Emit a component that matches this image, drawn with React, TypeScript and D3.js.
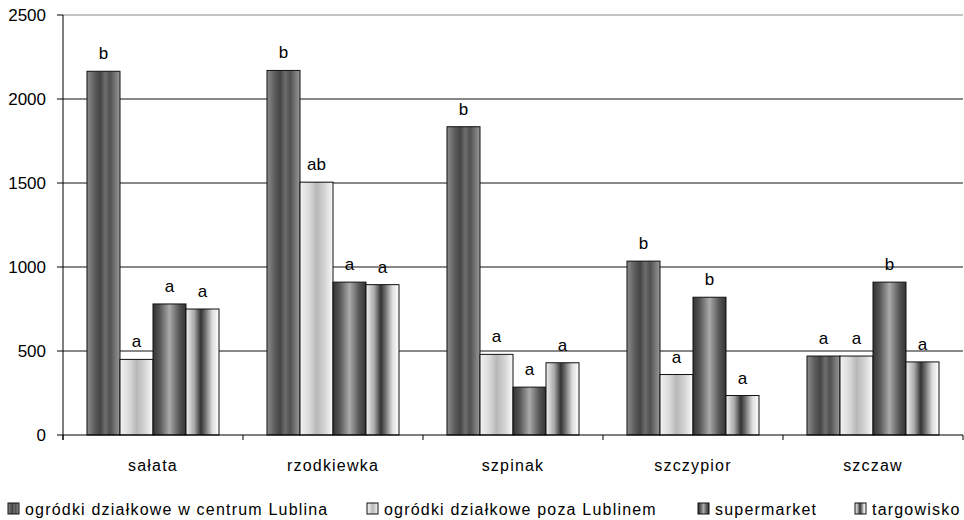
import React from "react";
import * as d3 from "d3";

const categories = ["sałata", "rzodkiewka", "szpinak", "szczypior", "szczaw"];
const seriesNames = [
  "ogródki działkowe w centrum Lublina",
  "ogródki działkowe poza Lublinem",
  "supermarket",
  "targowisko",
];
const centrum = [2165, 2170, 1835, 1035, 470];
const poza = [450, 1505, 480, 360, 470];
const supermarket = [780, 910, 285, 820, 910];
const targowisko = [750, 895, 430, 235, 435];
const lettersCentrum = ["b", "b", "b", "b", "a"];
const lettersPoza = ["a", "ab", "a", "a", "a"];
const lettersSuper = ["a", "a", "a", "b", "b"];
const lettersTarg = ["a", "a", "a", "a", "a"];
const yTicks = [0, 500, 1000, 1500, 2000, 2500];

const seriesValues = [centrum, poza, supermarket, targowisko];
const seriesLetters = [lettersCentrum, lettersPoza, lettersSuper, lettersTarg];

const gradients: [number, string][][] = [
  [[0, "#8c8c8c"], [0.25, "#5a5a5a"], [0.4, "#444"], [0.55, "#6e6e6e"], [0.7, "#505050"], [1, "#999"]],
  [[0, "#f2f2f2"], [0.3, "#d8d8d8"], [0.5, "#b8b8b8"], [0.75, "#d4d4d4"], [1, "#fafafa"]],
  [[0, "#333"], [0.2, "#555"], [0.5, "#aaa"], [0.8, "#555"], [1, "#333"]],
  [[0, "#f0f0f0"], [0.25, "#aaa"], [0.45, "#333"], [0.6, "#777"], [0.8, "#ddd"], [1, "#fff"]],
];

export default function App() {
  const W = 964, H = 520;
  const left = 63, right = 963, top = 15, bottom = 435;
  const y = d3.scaleLinear().domain([0, 2500]).range([bottom, top]);
  const x0 = d3.scaleBand().domain(categories).range([left, right]).paddingInner(0).paddingOuter(0);
  const groupPad = 24;
  const x1 = d3
    .scaleBand()
    .domain(seriesNames)
    .range([groupPad, x0.bandwidth() - groupPad])
    .padding(0);
  const font = "'Liberation Sans', Arial, sans-serif";
  const legendX = [8, 367, 698, 855];

  return (
    <svg width={W} height={H} style={{ position: "absolute", left: 0, top: 0, background: "#fff" }}>
      <defs>
        {gradients.map((g, i) => (
          <linearGradient key={i} id={`g${i}`} x1="0" x2="1" y1="0" y2="0">
            {g.map(([o, c], j) => (
              <stop key={j} offset={o} stopColor={c} />
            ))}
          </linearGradient>
        ))}
      </defs>
      {yTicks.slice(1).map((t) => (
        <line key={t} x1={left} x2={right} y1={y(t)} y2={y(t)} stroke={t === 2500 ? "#888" : "#111"} strokeWidth={1} />
      ))}
      {categories.map((c, ci) => (
        <g key={c} transform={`translate(${x0(c)},0)`}>
          {seriesNames.map((s, si) => {
            const v = seriesValues[si][ci];
            const bx = x1(s)!;
            return (
              <g key={s}>
                <rect x={bx} y={y(v)} width={x1.bandwidth()} height={bottom - y(v)} fill={`url(#g${si})`} stroke="#111" strokeWidth={1} />
                <text x={bx + x1.bandwidth() / 2} y={y(v) - 12} textAnchor="middle" fontFamily={font} fontSize={17} fill="#000">
                  {seriesLetters[si][ci]}
                </text>
              </g>
            );
          })}
        </g>
      ))}
      <line x1={left} x2={left} y1={top} y2={bottom + 5} stroke="#000" />
      {yTicks.map((t) => (
        <g key={t}>
          <line x1={left - 6} x2={left} y1={y(t)} y2={y(t)} stroke="#000" />
          <text x={left - 17} y={y(t)} dy="0.36em" textAnchor="end" fontFamily={font} fontSize={17} fill="#000">
            {t}
          </text>
        </g>
      ))}
      <line x1={left} x2={right} y1={bottom} y2={bottom} stroke="#000" />
      {categories.map((c, i) => (
        <line key={i} x1={x0(c)!} x2={x0(c)!} y1={bottom} y2={bottom + 5} stroke="#000" />
      ))}
      <line x1={right} x2={right} y1={bottom} y2={bottom + 5} stroke="#000" />
      {categories.map((c) => (
        <text key={c} x={x0(c)! + x0.bandwidth() / 2} y={471} textAnchor="middle" fontFamily={font} fontSize={16} letterSpacing={1.2} fill="#000">
          {c}
        </text>
      ))}
      {seriesNames.map((s, i) => (
        <g key={s}>
          <rect x={legendX[i]} y={503} width={11} height={11} fill={`url(#g${i})`} stroke="#111" />
          <text x={legendX[i] + 17} y={515} fontFamily={font} fontSize={16} letterSpacing={1.2} fill="#000">
            {s}
          </text>
        </g>
      ))}
    </svg>
  );
}
